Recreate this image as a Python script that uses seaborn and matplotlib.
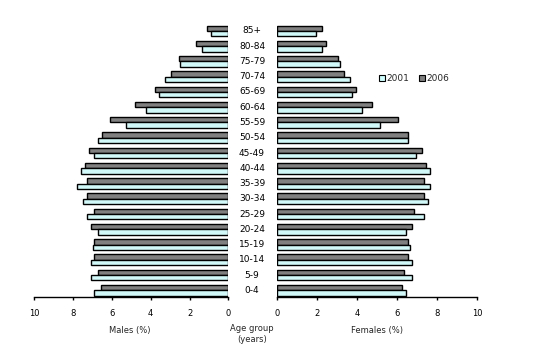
import matplotlib
matplotlib.use("Agg")
import matplotlib.pyplot as plt
import matplotlib.transforms as mtransforms
from matplotlib.patches import Patch
import pandas as pd
import seaborn as sns

age_groups = ["85+", "80-84", "75-79", "70-74", "65-69", "60-64", "55-59", "50-54",
              "45-49", "40-44", "35-39", "30-34", "25-29", "20-24", "15-19", "10-14",
              "5-9", "0-4"]
males_2001 = [0.91, 1.37, 2.51, 3.28, 3.59, 4.26, 5.29, 6.69, 6.89, 7.56, 7.77, 7.46,
              7.25, 6.69, 6.99, 7.05, 7.05, 6.89]
males_2006 = [1.12, 1.68, 2.56, 2.97, 3.80, 4.78, 6.07, 6.48, 7.15, 7.36, 7.25, 7.25,
              6.89, 7.05, 6.89, 6.89, 6.69, 6.58]
females_2001 = [1.95, 2.25, 3.15, 3.65, 3.75, 4.25, 5.15, 6.55, 6.95, 7.65, 7.65, 7.55,
                7.35, 6.45, 6.65, 6.75, 6.75, 6.45]
females_2006 = [2.25, 2.45, 3.05, 3.35, 3.95, 4.75, 6.05, 6.55, 7.25, 7.45, 7.35, 7.35,
                6.85, 6.75, 6.55, 6.55, 6.35, 6.25]
years = ["2006", "2001"]
x_ticks = [0, 2, 4, 6, 8, 10]

sns.set_theme(style="white")
plt.rcParams["font.family"] = ["DejaVu Sans"]

c2001 = "#CCFFFF"
c2006 = "#808080"
palette = {"2001": c2001, "2006": c2006}

def make_df(v2001, v2006):
    rows = []
    for a, v1, v2 in zip(age_groups, v2001, v2006):
        rows.append({"age": a, "year": "2006", "value": v2})
        rows.append({"age": a, "year": "2001", "value": v1})
    return pd.DataFrame(rows)

df_m = make_df(males_2001, males_2006)
df_f = make_df(females_2001, females_2006)

fig = plt.figure(figsize=(5.4, 3.64), dpi=100)
bottom, height = 0.1832, 0.751
ax_l = fig.add_axes([0.063, bottom, 0.360, height])
ax_r = fig.add_axes([0.5124, bottom, 0.3715, height])

for ax, df in ((ax_l, df_m), (ax_r, df_f)):
    sns.barplot(data=df, y="age", x="value", hue="year", order=age_groups,
                hue_order=years, palette=palette, orient="h", width=0.7,
                edgecolor="black", linewidth=1.0, ax=ax, legend=False)
    ax.set_ylim(len(age_groups) - 1 + 0.46, -0.46)
    ax.set_yticks([])
    ax.set_ylabel("")
    ax.set_xlabel("")
    ax.set_xticks(x_ticks)
    ax.set_xticklabels([str(t) for t in x_ticks], fontsize=6)
    for s in ("top", "left", "right"):
        ax.spines[s].set_visible(False)
    ax.spines["bottom"].set_color("black")
    ax.spines["bottom"].set_linewidth(1.0)
    ax.tick_params(axis="x", direction="out", length=2.5, width=1.0,
                   colors="black", pad=6, bottom=True)
    ax.set_facecolor("white")

ax_l.set_xlim(10, 0)
ax_r.set_xlim(0, 10)

trans = mtransforms.blended_transform_factory(ax_r.transAxes, ax_r.transData)
for i, a in enumerate(age_groups):
    ax_r.text(-0.123, i, a, transform=trans, ha="center", va="center",
              fontsize=6.5, color="black")

fig.text(130 / 540, 1 - 330 / 364, "Males (%)", ha="center", va="center", fontsize=6)
fig.text(377 / 540, 1 - 330 / 364, "Females (%)", ha="center", va="center", fontsize=6)
fig.text(252 / 540, 1 - 334 / 364, "Age group\n(years)", ha="center", va="center",
         fontsize=6, linespacing=1.3)

handles = [Patch(facecolor=c2001, edgecolor="black", linewidth=0.8, label="2001"),
           Patch(facecolor=c2006, edgecolor="black", linewidth=0.8, label="2006")]
ax_r.legend(handles=handles, loc="center left", bbox_to_anchor=(0.49, 0.80),
            ncol=2, frameon=False, fontsize=6.5, handlelength=0.7, handleheight=0.7,
            handletextpad=0.2, columnspacing=1.0, borderaxespad=0)

fig.savefig("out.png", dpi=100, facecolor="white")
